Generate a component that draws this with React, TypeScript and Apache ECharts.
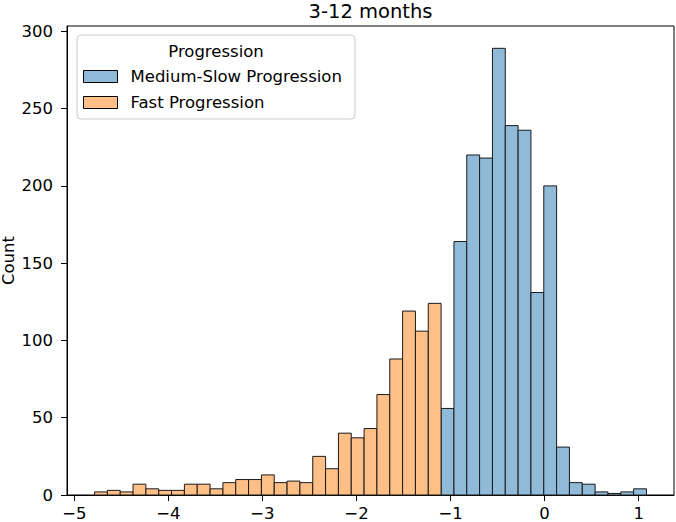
import React, { useEffect, useRef } from "react";
import * as echarts from "echarts";

const chartTitle = "3-12 months";
const legendTitle = "Progression";
const seriesNames = ["Medium-Slow Progression", "Fast Progression"];
const seriesColors = ["#8fbbd9", "#ffbf86"];

// histogram bins (shared by both groups)
const binStart = -4.785;
const binWidth = 0.13647;

// Fast Progression counts, bins 0..26
const fastCounts = [2, 3, 2, 7, 4, 3, 3, 7, 7, 4, 8, 10, 10, 13, 8, 9, 8, 25, 17, 40, 37, 43, 65, 88, 119, 106, 124];
// Medium-Slow Progression counts, bins 27..42
const slowCounts = [56, 164, 220, 218, 289, 239, 236, 131, 200, 31, 8, 7, 2, 1, 2, 4];
const slowFirstBin = 27;

const xTicks = [-5, -4, -3, -2, -1, 0, 1];
const yTicks = [0, 50, 100, 150, 200, 250, 300];

const xMin = -5.078;
const xMax = 1.376;
const yMax = 303.45;

function binsFor(counts: number[], firstBin: number) {
  return counts.map((c, i) => {
    const x0 = binStart + (firstBin + i) * binWidth;
    return [x0, x0 + binWidth, c];
  });
}

const fmt = (v: number) => (v < 0 ? "\u2212" + Math.abs(v) : String(v));

export default function App() {
  const ref = useRef<HTMLDivElement>(null);
  useEffect(() => {
    if (!ref.current) return;
    const chart = echarts.init(ref.current, null, { renderer: "svg" });
    const font = "DejaVu Sans";
    const makeSeries = (name: string, color: string, data: number[][]) => ({
      type: "custom",
      name,
      itemStyle: { color, borderColor: "#1a1a1a", borderWidth: 1 },
      encode: { x: [0, 1], y: 2 },
      data,
      renderItem: (params: any, api: any) => {
        const x0 = api.value(0);
        const x1 = api.value(1);
        const y = api.value(2);
        const p0 = api.coord([x0, y]);
        const p1 = api.coord([x1, 0]);
        return {
          type: "rect",
          shape: { x: p0[0], y: p0[1], width: p1[0] - p0[0], height: p1[1] - p0[1] },
          style: { fill: color, stroke: "#1a1a1a", lineWidth: 1 },
        };
      },
    });
    chart.setOption({
      animation: false,
      textStyle: { fontFamily: font },
      title: {
        text: chartTitle,
        left: 370.5,
        textAlign: "center",
        top: 1,
        padding: 0,
        textStyle: { fontFamily: font, fontSize: 19.5, fontWeight: "normal", color: "#000" },
      },
      grid: {
        left: 67,
        right: 2,
        top: 26,
        bottom: 27,
        containLabel: false,
        outerBoundsMode: "none",
        show: true,
        borderColor: "#000",
        borderWidth: 1,
        backgroundColor: "transparent",
      },
      xAxis: {
        type: "value",
        min: xMin,
        max: xMax,
        axisLine: { show: true, onZero: false, lineStyle: { color: "#000", width: 1 } },
        axisTick: { show: true, length: 6, customValues: xTicks, lineStyle: { color: "#000" } },
        axisLabel: {
          customValues: xTicks,
          formatter: fmt,
          fontFamily: font,
          fontSize: 16.5,
          color: "#000",
          margin: 10,
        },
        splitLine: { show: false },
      },
      yAxis: {
        type: "value",
        min: 0,
        max: yMax,
        name: "Count",
        nameLocation: "middle",
        nameGap: 50,
        nameMoveOverlap: false,
        nameTextStyle: { fontFamily: font, fontSize: 16.5, color: "#000" },
        axisLine: { show: true, onZero: false, lineStyle: { color: "#000", width: 1 } },
        axisTick: { show: true, length: 6, customValues: yTicks, lineStyle: { color: "#000" } },
        axisLabel: {
          customValues: yTicks,
          fontFamily: font,
          fontSize: 16.5,
          color: "#000",
          margin: 14,
        },
        splitLine: { show: false },
      },
      legend: {
        orient: "vertical",
        left: 83,
        top: 68,
        padding: 0,
        itemWidth: 34,
        itemHeight: 12,
        itemGap: 9,
        icon: "rect",
        z: 10,
        itemStyle: { borderColor: "#000", borderWidth: 1 },
        textStyle: { fontFamily: font, fontSize: 16.5, color: "#000", padding: [0, 0, 0, 8] },
        data: seriesNames.map((n, i) => ({ name: n, itemStyle: { color: seriesColors[i], borderColor: "#000", borderWidth: 1 } })),
      },
      graphic: [
        {
          type: "rect",
          z: 5,
          shape: { x: 77, y: 35, width: 278, height: 84, r: 4 },
          style: { fill: "rgba(255,255,255,0.8)", stroke: "#cccccc", lineWidth: 1 },
        },
        {
          type: "text",
          z: 6,
          x: 216,
          y: 51,
          style: {
            text: legendTitle,
            fontFamily: font,
            fontSize: 16.5,
            fill: "#000",
            textAlign: "center",
            textVerticalAlign: "middle",
          },
        },
      ],
      series: [
        makeSeries(seriesNames[0], seriesColors[0], binsFor(slowCounts, slowFirstBin)),
        makeSeries(seriesNames[1], seriesColors[1], binsFor(fastCounts, 0)),
      ],
    });
    return () => chart.dispose();
  }, []);
  return <div ref={ref} style={{ width: 676, height: 522, position: "absolute", left: 0, top: 0 }} />;
}
